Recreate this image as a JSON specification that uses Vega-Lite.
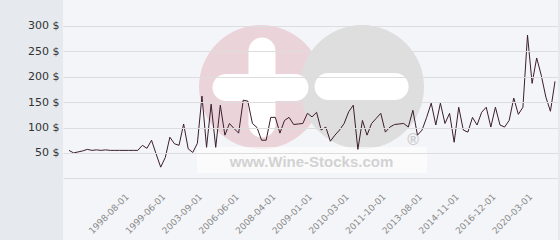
{
  "$schema": "https://vega.github.io/schema/vega-lite/v6.json",
  "width": 495,
  "height": 240,
  "autosize": "none",
  "padding": {"left": 63, "right": 2, "top": 0, "bottom": 0},
  "background": "#e6eaee",
  "view": {"fill": "#f4f5f8", "stroke": null},
  "config": {"font": "DejaVu Sans"},
  "resolve": {"axis": {"x": "independent", "y": "independent"}},
  "datasets": {
    "prices": [
      {"i":0,"price":55},{"i":1,"price":50},{"i":2,"price":52},{"i":3,"price":54},{"i":4,"price":57},
      {"i":5,"price":55},{"i":6,"price":56},{"i":7,"price":55},{"i":8,"price":56},{"i":9,"price":55},
      {"i":10,"price":55},{"i":11,"price":55},{"i":12,"price":55},{"i":13,"price":55},{"i":14,"price":55},
      {"i":15,"price":55},{"i":16,"price":65},{"i":17,"price":59},{"i":18,"price":75},{"i":19,"price":48},
      {"i":20,"price":22},{"i":21,"price":41},{"i":22,"price":81},{"i":23,"price":68},{"i":24,"price":65},
      {"i":25,"price":107},{"i":26,"price":58},{"i":27,"price":51},{"i":28,"price":69},{"i":29,"price":162},
      {"i":30,"price":61},{"i":31,"price":146},{"i":32,"price":61},{"i":33,"price":144},{"i":34,"price":85},
      {"i":35,"price":108},{"i":36,"price":98},{"i":37,"price":89},{"i":38,"price":154},{"i":39,"price":152},
      {"i":40,"price":108},{"i":41,"price":100},{"i":42,"price":75},{"i":43,"price":75},{"i":44,"price":120},
      {"i":45,"price":120},{"i":46,"price":89},{"i":47,"price":114},{"i":48,"price":120},{"i":49,"price":106},
      {"i":50,"price":107},{"i":51,"price":108},{"i":52,"price":128},{"i":53,"price":121},{"i":54,"price":130},
      {"i":55,"price":95},{"i":56,"price":101},{"i":57,"price":73},{"i":58,"price":85},{"i":59,"price":95},
      {"i":60,"price":108},{"i":61,"price":131},{"i":62,"price":144},{"i":63,"price":57},{"i":64,"price":114},
      {"i":65,"price":85},{"i":66,"price":108},{"i":67,"price":118},{"i":68,"price":128},{"i":69,"price":91},
      {"i":70,"price":101},{"i":71,"price":106},{"i":72,"price":107},{"i":73,"price":108},{"i":74,"price":101},
      {"i":75,"price":134},{"i":76,"price":85},{"i":77,"price":95},{"i":78,"price":120},{"i":79,"price":148},
      {"i":80,"price":105},{"i":81,"price":148},{"i":82,"price":108},{"i":83,"price":128},{"i":84,"price":71},
      {"i":85,"price":140},{"i":86,"price":95},{"i":87,"price":91},{"i":88,"price":120},{"i":89,"price":105},
      {"i":90,"price":130},{"i":91,"price":140},{"i":92,"price":101},{"i":93,"price":140},{"i":94,"price":105},
      {"i":95,"price":101},{"i":96,"price":114},{"i":97,"price":158},{"i":98,"price":126},{"i":99,"price":140},
      {"i":100,"price":282},{"i":101,"price":187},{"i":102,"price":237},{"i":103,"price":203},{"i":104,"price":160},
      {"i":105,"price":132},{"i":106,"price":191}
    ]
  },
  "layer": [
    {
      "data": {"values": [{}]},
      "mark": {"type": "circle", "size": 15376, "color": "#ebd3da", "opacity": 1},
      "encoding": {
        "x": {"datum": 41.88, "type": "quantitative", "axis": null},
        "y": {"datum": 179.8, "type": "quantitative", "axis": null}
      }
    },
    {
      "data": {"values": [{}]},
      "mark": {"type": "circle", "size": 15376, "color": "#dedede", "opacity": 1},
      "encoding": {
        "x": {"datum": 63.9, "type": "quantitative", "axis": null},
        "y": {"datum": 179.8, "type": "quantitative", "axis": null}
      }
    },
    {
      "data": {"values": [{}]},
      "mark": {"type": "rule", "strokeWidth": 27, "strokeCap": "round", "color": "#ffffff"},
      "encoding": {
        "x": {"datum": 34.24, "type": "quantitative", "axis": null},
        "x2": {"datum": 49.29},
        "y": {"datum": 178.9, "type": "quantitative", "axis": null}
      }
    },
    {
      "data": {"values": [{}]},
      "mark": {"type": "rule", "strokeWidth": 27, "strokeCap": "round", "color": "#ffffff"},
      "encoding": {
        "x": {"datum": 42.09, "type": "quantitative", "axis": null},
        "y": {"datum": 250.8, "type": "quantitative", "axis": null},
        "y2": {"datum": 107.0}
      }
    },
    {
      "data": {"values": [{}]},
      "mark": {"type": "rule", "strokeWidth": 27, "strokeCap": "round", "color": "#ffffff"},
      "encoding": {
        "x": {"datum": 56.51, "type": "quantitative", "axis": null},
        "x2": {"datum": 71.12},
        "y": {"datum": 180.8, "type": "quantitative", "axis": null}
      }
    },
    {
      "data": {"values": [{}]},
      "mark": {"type": "rect", "color": "#ffffff", "opacity": 0.6},
      "encoding": {
        "x": {"datum": 27.92, "type": "quantitative", "axis": null},
        "x2": {"datum": 78.08},
        "y": {"datum": 61.7, "type": "quantitative", "axis": null},
        "y2": {"datum": 10.4}
      }
    },
    {
      "data": {"values": [{}]},
      "mark": {"type": "text", "text": "www.Wine-Stocks.com", "font": "Liberation Sans", "fontWeight": "bold", "fontSize": 15, "color": "#d2d2d2", "align": "center", "baseline": "alphabetic"},
      "encoding": {
        "x": {"datum": 52.89, "type": "quantitative", "axis": null},
        "y": {"datum": 23.2, "type": "quantitative", "axis": null}
      }
    },
    {
      "data": {"values": [{}]},
      "mark": {"type": "text", "text": "®", "font": "Liberation Sans", "fontWeight": "bold", "fontSize": 16, "color": "#cccccc", "align": "center", "baseline": "middle"},
      "encoding": {
        "x": {"datum": 75.03, "type": "quantitative", "axis": null},
        "y": {"datum": 75.4, "type": "quantitative", "axis": null}
      }
    },
    {
      "data": {"name": "prices"},
      "mark": {"type": "line", "color": "#3c1e2d", "strokeWidth": 1},
      "encoding": {
        "x": {
          "field": "i",
          "type": "quantitative",
          "scale": {"domain": [-1.309, 106.65], "nice": false, "zero": false},
          "axis": {
            "values": [12, 20, 28, 36, 44, 52, 60, 68, 76, 84, 92, 100],
            "labelExpr": "['1998-08-01','1999-06-01','2003-09-01','2006-06-01','2008-04-01','2009-01-01','2010-03-01','2011-10-01','2013-08-01','2014-11-01','2016-12-01','2020-03-01'][(datum.value-12)/8]",
            "labelAngle": -45,
            "labelAlign": "right",
            "labelBaseline": "top",
            "labelPadding": 14,
            "labelOffset": 0,
            "offset": -62,
            "domain": false,
            "ticks": false,
            "grid": false,
            "title": null,
            "labelColor": "#8a8a8a",
            "labelFontSize": 9,
            "labelFont": "DejaVu Sans",
            "labelFlush": false,
            "labelOverlap": false
          }
        },
        "y": {
          "field": "price",
          "type": "quantitative",
          "scale": {"domain": [-121.5, 351.2], "nice": false, "zero": false},
          "axis": {
            "values": [0, 50, 100, 150, 200, 250, 300],
            "labelExpr": "datum.value == 0 ? '' : datum.value + ' $'",
            "grid": true,
            "gridColor": "#dddddd",
            "gridWidth": 1,
            "domain": false,
            "ticks": false,
            "labelPadding": 4,
            "labelFontSize": 11,
            "labelFont": "DejaVu Sans",
            "labelColor": "#333333",
            "title": null,
            "zindex": 1
          }
        }
      }
    }
  ]
}
